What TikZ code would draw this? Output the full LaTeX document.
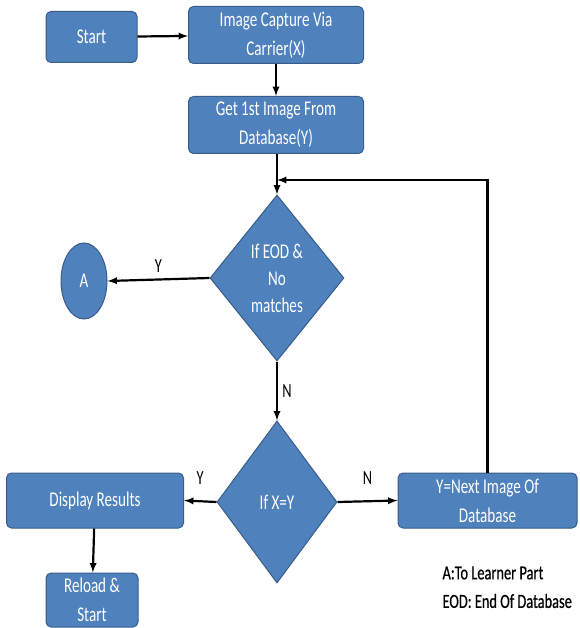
\documentclass[tikz,border=0pt]{standalone}
\usepackage{fontspec}
\setmainfont{Carlito}
\newfontfamily\boxfont[FakeStretch=0.72]{Carlito}
\newfontfamily\legfont[FakeStretch=0.72, FakeBold=0.6]{Carlito}
\usetikzlibrary{shapes.geometric}
\tikzset{>=latex}
\definecolor{boxblue}{RGB}{79,129,189}
\definecolor{boxedge}{RGB}{56,93,138}
\tikzset{
	procbox/.style={draw=boxedge, fill=boxblue, line width=1pt, rounded corners=5pt,
		text=white, align=center, inner sep=0pt, font=\boxfont\fontsize{21}{29}\selectfont},
	decision/.style={diamond, aspect=0.7, draw=boxedge, fill=boxblue, line width=1pt,
		text=white, align=center, inner sep=0pt, font=\boxfont\fontsize{21}{27}\selectfont},
	flow/.style={->, line width=2.2pt},
	tag/.style={font=\boxfont\fontsize{20}{27}\selectfont}
}

\begin{document}
\begin{tikzpicture}[x=1pt, y=-1pt]
	\useasboundingbox (0, 0) rectangle (579, 628);
	% top row
	\node[procbox, minimum width=91, minimum height=51](start) at (91.5, 37){Start};
	\node[procbox, minimum width=175, minimum height=57](capture) at (276, 35){Image Capture Via\\Carrier(X)};
	\node[procbox, minimum width=175, minimum height=57](getfirst) at (276, 125){Get 1st Image From\\Database(Y)};
	\draw[flow](start)--(capture);
	\draw[flow](capture)--(getfirst);
	% end of database
	\node[decision, minimum width=134, minimum height=166](eod) at (277, 278){If EOD \&\\No\\matches};
	\node[ellipse, draw=boxedge, fill=boxblue, line width=1pt, text=white, inner sep=0pt,
		minimum width=46, minimum height=76, font=\boxfont\fontsize{21}{27}\selectfont](learner) at (84, 281){A};
	\coordinate (join) at (277, 180);
	\draw[flow](getfirst.south -| eod.north)--(eod.north);
	\draw[flow](eod.west)--(learner.east)node[tag, midway, above=3pt]{Y};
	% compare
	\node[decision, minimum width=120, minimum height=162](match) at (277, 502){If X=Y};
	\draw[flow](eod.south)--(match.north)node[tag, midway, right=1pt]{N};
	\node[procbox, minimum width=177, minimum height=55](display) at (95, 500.5){Display Results};
	\node[procbox, minimum width=179, minimum height=55](next) at (487.5, 500.5){Y=Next Image Of\\Database};
	\node[procbox, minimum width=92, minimum height=54](reload) at (92, 600){Reload \&\\Start};
	\draw[flow](match.west)--(display.east)node[tag, midway, above=12pt]{Y};
	\draw[flow](match.east)--(next.west)node[tag, midway, above=12pt]{N};
	\draw[flow](display)--(reload);
	\draw[flow](next.north)|-(join);
	% legend
	\node[anchor=west, font=\legfont\fontsize{20}{27}\selectfont](lega) at (439, 573){A:To Learner Part};
	\node[anchor=west, font=\legfont\fontsize{20}{27}\selectfont](legb) at (439, 601){EOD: End Of Database};
\end{tikzpicture}
\end{document}
